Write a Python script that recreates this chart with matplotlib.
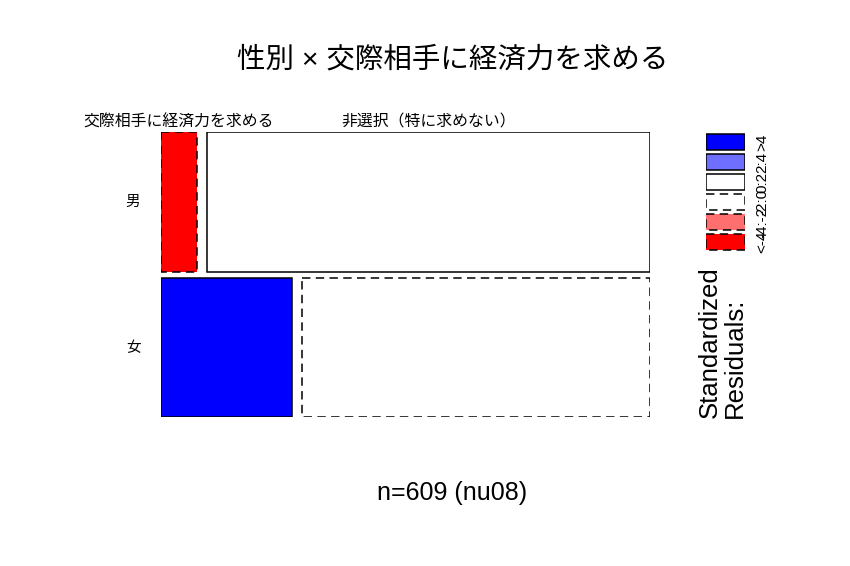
import matplotlib
matplotlib.use('Agg')
import matplotlib.pyplot as plt
from matplotlib.patches import Rectangle

plt.rcParams['font.family'] = ['Liberation Sans', 'Noto Sans CJK JP', 'DejaVu Sans']

# Data (counts read from the mosaic)
rows = ['男', '女']
cols = ['交際相手に経済力を求める', '非選択（特に求めない）']
counts = [[23, 283],
          [83, 220]]
# residual class of each cell: index into legend_colors
cell_class = [[5, 2],
              [0, 3]]
legend_labels = ['>4', '2:4', '0:2', '-2:0', '-4:-2', '<-4']
legend_colors = ['#0000FF', '#6F6FFF', '#FFFFFF', '#FFFFFF', '#FF6F6F', '#FF0000']
legend_dashed = [False, False, False, True, True, True]

total = sum(sum(r) for r in counts)
dash = (0, (5.5, 3.5))

fig = plt.figure(figsize=(8.5, 5.66), dpi=100)

# Mosaic area
ax = fig.add_axes([161 / 850, 1 - 417 / 566, 489 / 850, 285 / 566])
ax.set_xlim(0, 1)
ax.set_ylim(0, 1)
ax.invert_yaxis()
ax.axis('off')

gx = 10 / 489
gy = 6 / 285
y = 0
for i, row in enumerate(counts):
    h = (1 - gy) * sum(row) / total
    x = 0
    for j, c in enumerate(row):
        w = (1 - gx) * c / sum(row)
        k = cell_class[i][j]
        ls = dash if legend_dashed[k] else '-'
        ax.add_patch(Rectangle((x, y), w, h, facecolor=legend_colors[k],
                               edgecolor='black', linewidth=1.1, linestyle=ls))
        if i == 0:
            ax.text(x + w / 2, -0.01, cols[j], ha='center', va='bottom', fontsize=11.4)
        x += w + gx
    ax.text(-0.057, y + h / 2, rows[i], ha='center', va='center', fontsize=10.5)
    y += h + gy

# Legend
lax = fig.add_axes([706 / 850, 1 - 252 / 566, 39 / 850, 120 / 566])
lax.set_xlim(0, 1)
lax.set_ylim(0, len(legend_labels))
lax.invert_yaxis()
lax.axis('off')
for k, lab in enumerate(legend_labels):
    ls = dash if legend_dashed[k] else '-'
    lax.add_patch(Rectangle((0, k + 0.12), 1, 0.76, facecolor=legend_colors[k],
                            edgecolor='black', linewidth=1.1, linestyle=ls))
    lax.text(1.45, k + 0.5, lab, rotation=90, ha='center', va='center', fontsize=11)

fig.text(722 / 850, 1 - 418 / 566, 'Standardized\nResiduals:', rotation=90,
         ha='center', va='bottom', multialignment='left', fontsize=18.5, linespacing=1.05)

fig.text(453 / 850, 1 - 60 / 566, '性別 × 交際相手に経済力を求める',
         ha='center', va='center', fontsize=20.5)
fig.text(452 / 850, 1 - 493 / 566, 'n=609 (nu08)', ha='center', va='center', fontsize=18)

fig.savefig('out.png', dpi=100)
